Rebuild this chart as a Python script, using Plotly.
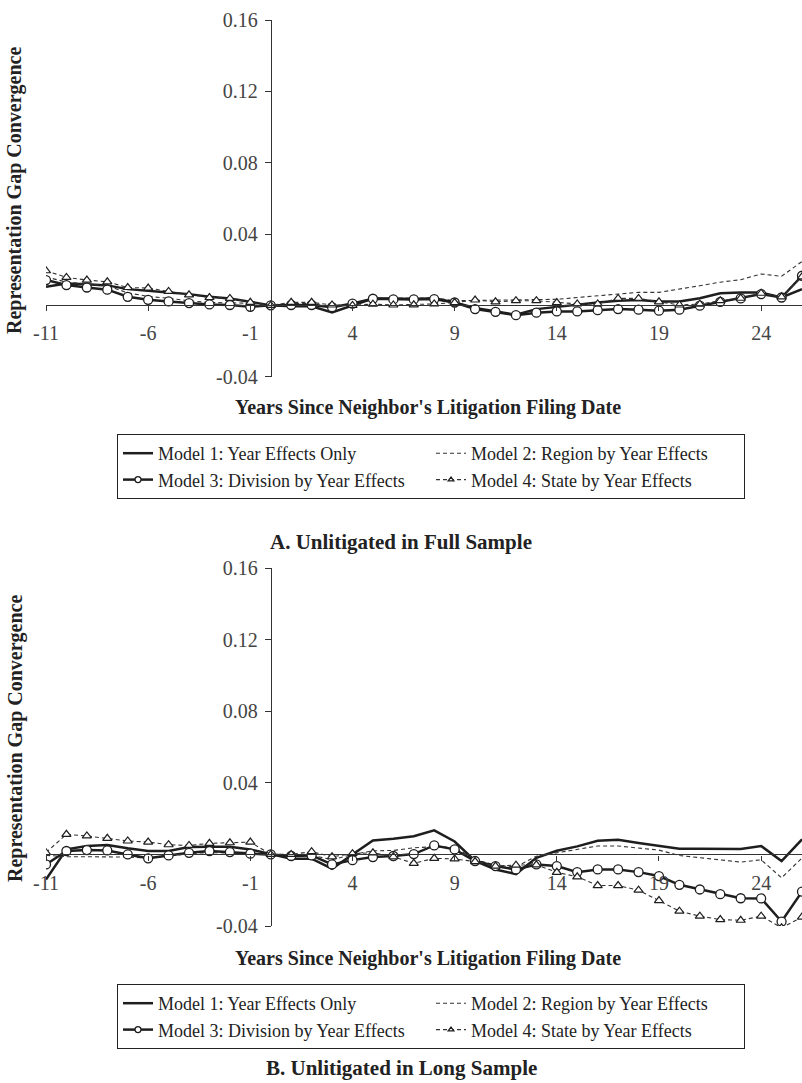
import plotly.graph_objects as go

years = [-11, -10, -9, -8, -7, -6, -5, -4, -3, -2, -1, 0, 1, 2, 3, 4, 5, 6, 7, 8,
         9, 10, 11, 12, 13, 14, 15, 16, 17, 18, 19, 20, 21, 22, 23, 24, 25, 26]

# Panel A: Unlitigated in Full Sample
m1_a = [0.0104, 0.0123, 0.0118, 0.0112, 0.0091, 0.0080, 0.0072, 0.0063, 0.0048, 0.0039, 0.0020, 0.0,
        -0.0005, -0.0005, -0.0040, 0.0000, 0.0038, 0.0038, 0.0036, 0.0040, 0.0016, -0.0015, -0.0036,
        -0.0053, -0.0021, -0.0008, 0.0003, 0.0016, 0.0026, 0.0030, 0.0022, 0.0022, 0.0040, 0.0068,
        0.0072, 0.0072, 0.0044, 0.0091]
m2_a = [0.0160, 0.0130, 0.0120, 0.0110, 0.0070, 0.0050, 0.0040, 0.0025, 0.0016, 0.0016, 0.0012, 0.0,
        0.0010, 0.0010, -0.0010, 0.0010, 0.0040, 0.0040, 0.0040, 0.0042, 0.0026, 0.0028, 0.0028,
        0.0028, 0.0030, 0.0034, 0.0044, 0.0054, 0.0064, 0.0073, 0.0073, 0.0090, 0.0110, 0.0130,
        0.0144, 0.0176, 0.0163, 0.0246]
m3_a = [0.0142, 0.0114, 0.0100, 0.0088, 0.0048, 0.0031, 0.0022, 0.0013, 0.0005, 0.0002, -0.0008, 0.0,
        0.0002, 0.0002, -0.0010, 0.0010, 0.0037, 0.0033, 0.0033, 0.0035, 0.0016, -0.0021, -0.0036,
        -0.0055, -0.0041, -0.0034, -0.0034, -0.0027, -0.0021, -0.0024, -0.0030, -0.0024, -0.0002,
        0.0020, 0.0039, 0.0063, 0.0044, 0.0166]
m4_a = [0.0194, 0.0157, 0.0142, 0.0132, 0.0100, 0.0097, 0.0078, 0.0059, 0.0044, 0.0039, 0.0017, 0.0,
        0.0017, 0.0017, 0.0002, 0.0000, 0.0007, 0.0002, 0.0003, 0.0008, 0.0016, 0.0030, 0.0020,
        0.0026, 0.0026, 0.0016, 0.0008, 0.0008, 0.0039, 0.0039, 0.0020, 0.0002, 0.0007, 0.0026,
        0.0040, 0.0068, 0.0048, 0.0160]

# Panel B: Unlitigated in Long Sample
m1_b = [-0.0140, 0.0028, 0.0047, 0.0052, 0.0034, 0.0019, 0.0019, 0.0041, 0.0043, 0.0043, 0.0028, 0.0,
        -0.0024, -0.0024, -0.0080, 0.0000, 0.0078, 0.0088, 0.0101, 0.0134, 0.0072, -0.0037, -0.0084,
        -0.0110, -0.0019, 0.0020, 0.0045, 0.0076, 0.0082, 0.0064, 0.0050, 0.0032, 0.0032, 0.0030,
        0.0030, 0.0047, -0.0037, 0.0084]
m2_b = [-0.0005, -0.0013, -0.0013, -0.0013, -0.0015, -0.0020, -0.0010, 0.0005, 0.0010, 0.0008, 0.0005, 0.0,
        -0.0005, -0.0005, -0.0030, 0.0000, 0.0020, 0.0022, 0.0037, 0.0043, 0.0040, -0.0030, -0.0060,
        -0.0070, -0.0010, 0.0010, 0.0028, 0.0047, 0.0047, 0.0037, 0.0024, -0.0006, -0.0019, -0.0032,
        -0.0043, -0.0030, -0.0131, -0.0020]
m3_b = [-0.0056, 0.0019, 0.0024, 0.0022, 0.0000, -0.0022, -0.0006, 0.0009, 0.0019, 0.0013, 0.0004, 0.0,
        -0.0009, -0.0006, -0.0056, -0.0032, -0.0015, -0.0009, 0.0002, 0.0050, 0.0028, -0.0037, -0.0065,
        -0.0084, -0.0056, -0.0065, -0.0099, -0.0084, -0.0084, -0.0099, -0.0121, -0.0170, -0.0196,
        -0.0222, -0.0245, -0.0246, -0.0375, -0.0208]
m4_b = [0.0010, 0.0112, 0.0103, 0.0090, 0.0075, 0.0069, 0.0054, 0.0050, 0.0062, 0.0065, 0.0069, 0.0,
        0.0000, 0.0015, -0.0013, 0.0004, 0.0009, -0.0013, -0.0050, -0.0022, -0.0025, -0.0040, -0.0065,
        -0.0060, -0.0058, -0.0100, -0.0125, -0.0174, -0.0174, -0.0200, -0.0258, -0.0317, -0.0345,
        -0.0364, -0.0368, -0.0345, -0.0410, -0.0350]

model_names = ["Model 1: Year Effects Only", "Model 2: Region by Year Effects",
               "Model 3: Division by Year Effects", "Model 4: State by Year Effects"]
x_ticks = [-11, -6, -1, 4, 9, 14, 19, 24]
x_ticktext = ["-11", "-6", "-1", "4", "9", "14", "19", "24"]
y_ticks = [-0.04, 0.04, 0.08, 0.12, 0.16]
y_ticktext = ["-0.04", "0.04", "0.08", "0.12", "0.16"]
panel_titles = ["A. Unlitigated in Full Sample", "B. Unlitigated in Long Sample"]
x_title = "Years Since Neighbor's Litigation Filing Date"
y_title = "Representation Gap Convergence"

W, H = 802, 1083
FONT = "Liberation Serif, Times New Roman, serif"
INK = "#1e1e1e"
XR = [-11, 26]
YR = [-0.04, 0.16]


def py(p):
    return 1 - p / H


xdom = [46 / W, 1.0]
ydoms = [[py(376.7), py(20)], [py(926), py(568)]]


def style(i, msize):
    if i == 0:
        return dict(mode="lines", line=dict(color=INK, width=2.5))
    if i == 1:
        return dict(mode="lines", line=dict(color="#333", width=1.1, dash="4px,3px"))
    if i == 2:
        return dict(mode="lines+markers", line=dict(color=INK, width=2.5),
                    marker=dict(symbol="circle", size=msize, color="white",
                                line=dict(color=INK, width=1.3)))
    return dict(mode="lines+markers", line=dict(color="#333", width=1.1, dash="4px,3px"),
                marker=dict(symbol="triangle-up", size=msize - 1, color="white",
                            line=dict(color=INK, width=1.2)))


fig = go.Figure()
panels = [[m1_a, m2_a, m3_a, m4_a], [m1_b, m2_b, m3_b, m4_b]]
for pi, series in enumerate(panels):
    xa = "x" if pi == 0 else "x2"
    ya = "y" if pi == 0 else "y2"
    lg = "legend" if pi == 0 else "legend2"
    for i, (name, vals) in enumerate(zip(model_names, series)):
        fig.add_trace(go.Scatter(x=years, y=vals, name=name, xaxis=xa, yaxis=ya,
                                 showlegend=False, cliponaxis=True, hoverinfo="skip",
                                 **style(i, 9)))
    # legend-only entries with the smaller legend symbols
    for i, name in enumerate(model_names):
        fig.add_trace(go.Scatter(x=[None], y=[None], name=name, xaxis=xa, yaxis=ya,
                                 legend=lg, showlegend=True, **style(i, 6)))

layout = dict(template="none", width=W, height=H, autosize=False,
              margin=dict(l=0, r=0, t=0, b=0, pad=0, autoexpand=False),
              paper_bgcolor="white", plot_bgcolor="white", hovermode=False,
              font=dict(family=FONT, color="#222", size=18), showlegend=True)

for pi in range(2):
    d0, d1 = ydoms[pi]
    xpos = d0 + (0 - YR[0]) / (YR[1] - YR[0]) * (d1 - d0)
    ypos = xdom[0] + (0 - XR[0]) / (XR[1] - XR[0]) * (xdom[1] - xdom[0])
    sfx = "" if pi == 0 else "2"
    layout["xaxis" + sfx] = dict(domain=xdom, range=XR, anchor="free", position=xpos,
                                 automargin=False, fixedrange=True,
                                 showline=True, linecolor="#333", linewidth=1.2,
                                 ticks="outside", ticklen=5, tickcolor="#333", tickwidth=1.2,
                                 tickvals=x_ticks, ticktext=x_ticktext, showgrid=False,
                                 zeroline=False, ticklabelstandoff=5,
                                 tickfont=dict(family=FONT, size=20, color="#444"))
    layout["yaxis" + sfx] = dict(domain=[d0, d1], range=YR, anchor="free", position=ypos,
                                 automargin=False, fixedrange=True,
                                 showline=True, linecolor="#333", linewidth=1.2,
                                 ticks="outside", ticklen=6, tickcolor="#333", tickwidth=1.2,
                                 tickvals=y_ticks, ticktext=y_ticktext, showgrid=False,
                                 zeroline=False, ticklabelstandoff=3,
                                 tickfont=dict(family=FONT, size=20, color="#444"))

leg_common = dict(orientation="h", xanchor="left", yanchor="top", x=117 / W,
                  entrywidth=268, entrywidthmode="pixels", bordercolor="#222", borderwidth=1,
                  bgcolor="white", font=dict(family=FONT, size=18, color="#222"),
                  traceorder="normal", tracegroupgap=0)
layout["legend"] = dict(leg_common, y=py(434))
layout["legend2"] = dict(leg_common, y=py(984))

ann = []
for pi in range(2):
    ann.append(dict(text="<b>%s</b>" % y_title, x=15 / W, y=py(191 + (548 if pi else 0)),
                    xref="paper", yref="paper",
                    textangle=-90, showarrow=False, xanchor="center", yanchor="middle",
                    font=dict(family=FONT, size=20, color="#222")))
    ann.append(dict(text="<b>%s</b>" % x_title, x=428 / W, y=py(408 + (550 if pi else 0)),
                    xref="paper", yref="paper", showarrow=False, xanchor="center", yanchor="middle",
                    font=dict(family=FONT, size=20, color="#222")))
ann.append(dict(text="<b>%s</b>" % panel_titles[0], x=401 / W, y=py(542), xref="paper", yref="paper",
                showarrow=False, xanchor="center", yanchor="middle",
                font=dict(family=FONT, size=21, color="#222")))
ann.append(dict(text="<b>%s</b>" % panel_titles[1], x=401 / W, y=py(1068), xref="paper", yref="paper",
                showarrow=False, xanchor="center", yanchor="middle",
                font=dict(family=FONT, size=21, color="#222")))
layout["annotations"] = ann

fig.update_layout(**layout)
fig.write_html("out.html", config={"displayModeBar": False, "staticPlot": False},
               post_script="document.body.style.margin='0';document.body.style.overflow='hidden';")
